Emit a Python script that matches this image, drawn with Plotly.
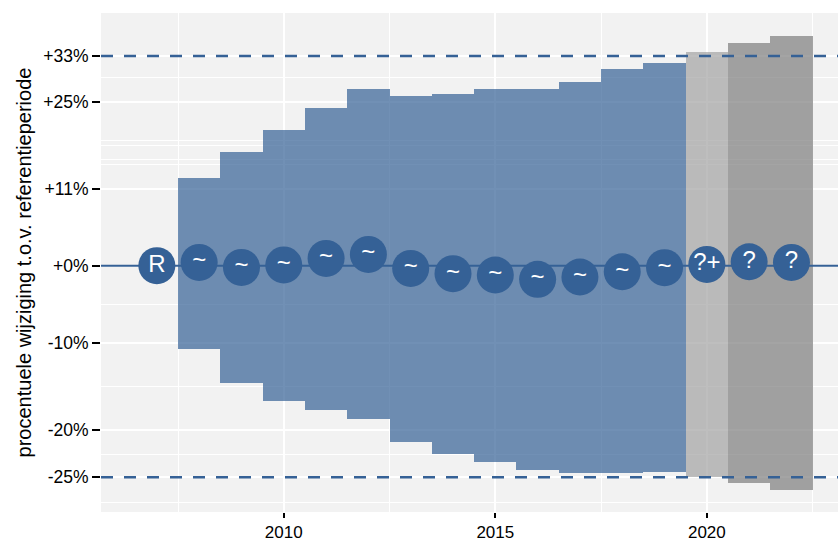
import numpy as np
import plotly.graph_objects as go

# ---- data (percent change vs. reference period) ----
years = [2007, 2008, 2009, 2010, 2011, 2012, 2013, 2014, 2015, 2016, 2017, 2018, 2019, 2020, 2021, 2022]
estimate_pct = [0.0, 0.45, -0.23, 0.1, 1.0, 1.55, -0.37, -1.08, -1.26, -1.84, -1.53, -0.82, -0.27, 0.18, 0.54, 0.45]
lower_pct = [None, -10.7, -14.8, -16.8, -17.8, -18.8, -21.3, -22.6, -23.4, -24.3, -24.6, -24.6, -24.5, -24.96, -25.6, -26.3]
upper_pct = [None, 12.7, 16.8, 20.3, 24.0, 27.1, 25.9, 26.4, 27.2, 27.1, 28.4, 30.6, 31.8, 33.8, 35.4, 36.7]
effect_class = ["R", "~", "~", "~", "~", "~", "~", "~", "~", "~", "~", "~", "~", "?+", "?", "?"]
reference_pct = 0
thresholds_pct = [33, -25]
tick_pct = [33, 25, 11, 0, -10, -20, -25]
tick_text = ["+33%", "+25%", "+11%", "+0%", "-10%", "-20%", "-25%"]
minor_grid_pct = [29.1, 18.5, 17.8, 15.5, 14.7, -5.2, -15.1, -22.6, -27.5]

# ---- styling ----
BLUE = "#356196"
class_fill = {
    "~": "rgba(53,97,150,0.70)",
    "?+": "rgba(163,163,163,0.70)",
    "?": "rgba(125,125,125,0.70)",
}
FONT = "Liberation Sans, Arial, Helvetica, sans-serif"
X_RANGE = [2005.68, 2023.1]


def tr(p):
    return np.log1p(np.asarray(p, dtype=float) / 100.0)


bar_years = [y for y, lo in zip(years, lower_pct) if lo is not None]
bar_lo = tr([lo for lo in lower_pct if lo is not None])
bar_hi = tr([hi for hi in upper_pct if hi is not None])
bar_cls = [c for c, lo in zip(effect_class, lower_pct) if lo is not None]

fig = go.Figure()

fig.add_trace(go.Bar(
    x=bar_years,
    y=bar_hi - bar_lo,
    base=bar_lo,
    width=1,
    marker=dict(color=[class_fill[c] for c in bar_cls], line=dict(width=0)),
    hoverinfo="skip",
    showlegend=False,
))

# reference line and threshold lines (spanning the full x range)
fig.add_trace(go.Scatter(
    x=X_RANGE, y=[float(tr(reference_pct))] * 2, mode="lines",
    line=dict(color=BLUE, width=2), hoverinfo="skip", showlegend=False,
))
for t in thresholds_pct:
    fig.add_trace(go.Scatter(
        x=X_RANGE, y=[float(tr(t))] * 2, mode="lines",
        line=dict(color=BLUE, width=2.5, dash="12px,11px"),
        hoverinfo="skip", showlegend=False,
    ))

fig.add_trace(go.Scatter(
    x=years,
    y=tr(estimate_pct),
    mode="markers+text",
    marker=dict(size=37, color=BLUE, line=dict(width=0)),
    text=effect_class,
    textposition="middle center",
    textfont=dict(color="white", size=24, family=FONT),
    showlegend=False,
))

fig.update_layout(
    width=838,
    height=542,
    margin=dict(l=101, r=0, t=13, b=30, autoexpand=False),
    paper_bgcolor="white",
    plot_bgcolor="#F2F2F2",
    font=dict(family=FONT, size=18, color="black"),
    bargap=0,
    showlegend=False,
)

fig.update_xaxes(
    range=X_RANGE,
    tickmode="array",
    tickvals=[2010, 2015, 2020],
    ticktext=["2010", "2015", "2020"],
    ticks="outside",
    ticklen=5,
    tickwidth=2,
    tickcolor="black",
    showgrid=True,
    gridcolor="white",
    gridwidth=2,
    zeroline=False,
    showline=False,
    automargin=False,
    tickfont=dict(size=17, color="black"),
    minor=dict(tickvals=[2007.5, 2012.5, 2017.5, 2022.5], showgrid=True,
               gridcolor="white", gridwidth=1, ticks=""),
)

fig.update_yaxes(
    range=[-0.3351, 0.3438],
    tickmode="array",
    tickvals=tr(tick_pct),
    ticktext=tick_text,
    ticks="outside",
    ticklen=8,
    tickwidth=2,
    tickcolor="black",
    showgrid=True,
    gridcolor="white",
    gridwidth=2,
    zeroline=False,
    showline=False,
    automargin=False,
    tickfont=dict(size=17.5, color="black"),
    title=dict(text="procentuele wijziging t.o.v. referentieperiode",
               font=dict(size=20, color="black"), standoff=6),
    minor=dict(tickvals=tr(minor_grid_pct), showgrid=True,
               gridcolor="white", gridwidth=1, ticks=""),
)

fig.write_html(
    "out.html",
    config={"displayModeBar": False},
    post_script="document.body.style.margin='0';document.body.style.padding='0';",
)
